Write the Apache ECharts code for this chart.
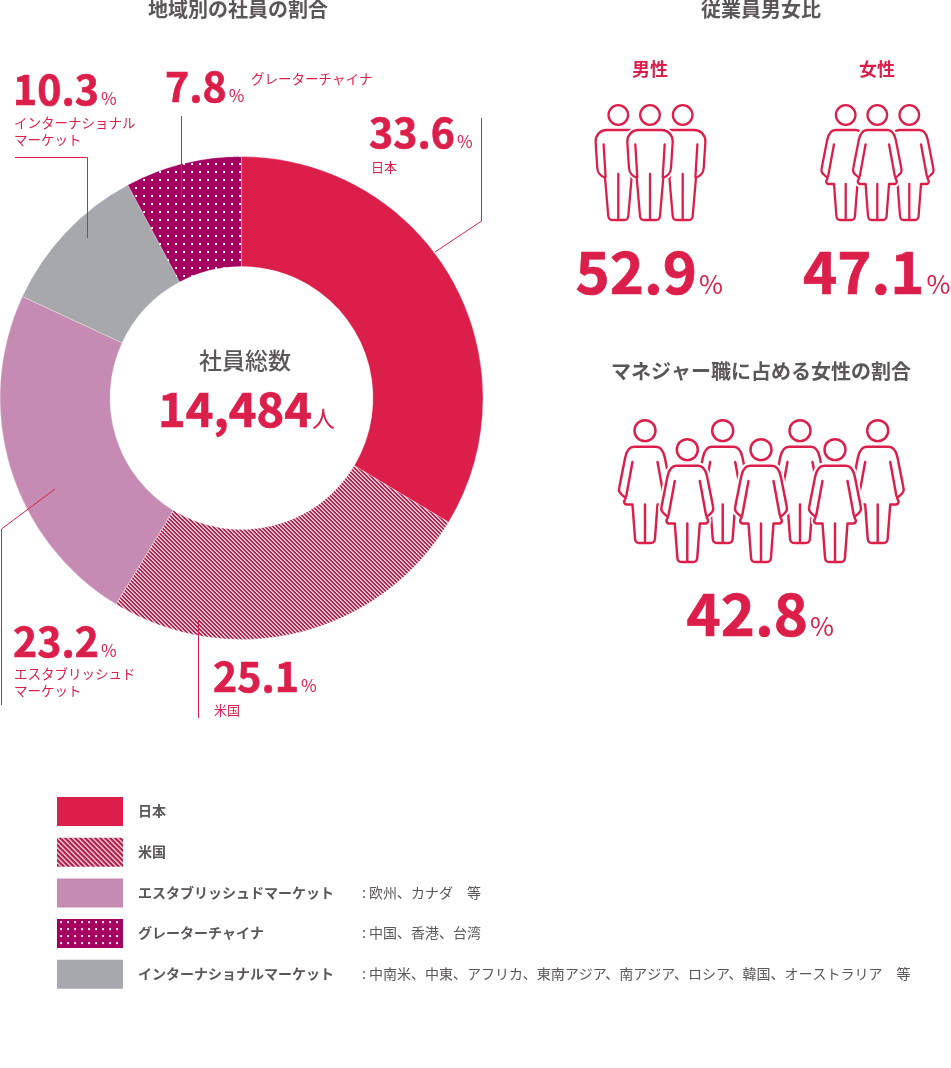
<!DOCTYPE html>
<html>
<head>
<meta charset="utf-8">
<style>html,body{margin:0;padding:0;background:#fff}#main{width:951px;height:1068px}</style>
<script src="https://cdn.jsdelivr.net/npm/echarts@6/dist/echarts.min.js"></script>
</head>
<body>
<div id="main"></div>
<script>
var regions = ['日本', '米国', 'エスタブリッシュドマーケット', 'インターナショナルマーケット', 'グレーターチャイナ'];
var shares = [33.6, 25.1, 23.2, 10.3, 7.8];
var legendOrder = ['日本', '米国', 'エスタブリッシュドマーケット', 'グレーターチャイナ', 'インターナショナルマーケット'];
var legendNotes = ['', '', ': 欧州、カナダ　等', ': 中国、香港、台湾', ': 中南米、中東、アフリカ、東南アジア、南アジア、ロシア、韓国、オーストラリア　等'];
var totalStaff = '14,484';
var malePct = 52.9;
var femalePct = 47.1;
var managerPct = 42.8;

var RED = '#db1f4a', GREY = '#595757', FONT = '"Noto Sans CJK JP"';

function hatch(period){
    var c = document.createElement('canvas');
    c.width = c.height = period;
    var x = c.getContext('2d');
    x.fillStyle = '#b2234f';
    x.fillRect(0, 0, period, period);
    for(var i = 0; i < period; i++){
        x.fillStyle = '#f3dbe2';
        x.fillRect(i, i, 1, 1);
        x.fillStyle = '#e3a9ba';
        x.fillRect((i + 1) % period, i, 1, 1);
    }
    return {image: c, repeat: 'repeat'};
}
function dots(period, px, py){
    var c = document.createElement('canvas');
    c.width = c.height = period;
    var x = c.getContext('2d');
    x.fillStyle = '#a5005f';
    x.fillRect(0, 0, period, period);
    x.fillStyle = '#f7d9ea';
    x.fillRect(px, py, 1, 2);
    x.fillStyle = '#ffffff';
    x.fillRect((px + 1) % period, py, 1, 2);
    return {image: c, repeat: 'repeat'};
}

var sliceColors = [RED, hatch(4), '#c68bb3', '#a7a8ab', dots(8, 7, 3)];
var legendColors = [RED, hatch(5), '#c68bb3', dots(7, 3, 2), '#a7a8ab'];

function txt(text, x, y, size, weight, color, align){
    return {type: 'text', x: x, y: y, z: 10, silent: true, style: {
        text: text, fill: color, align: align || 'left', verticalAlign: 'middle',
        font: weight + ' ' + size + 'px ' + FONT
    }};
}
// 数字 + 小さい単位
function pct(value, x, y, size, unitSize, unit, gap){
    return {type: 'text', x: x, y: y, z: 10, silent: true, style: {
        text: '{n|' + value + '}{u|' + (unit || '%') + '}',
        fill: RED, verticalAlign: 'middle',
        rich: {
            n: {font: 'bold ' + size + 'px ' + FONT, fill: RED, stroke: RED, lineWidth: 0.7},
            u: {font: 'normal ' + unitSize + 'px ' + FONT, fill: RED, verticalAlign: 'bottom', padding: [0, 0, size * 0.07, gap == null ? 2 : gap]}
        }
    }};
}
function leader(points){
    return {type: 'polyline', z: 9, silent: true, shape: {points: points},
        style: {stroke: RED, lineWidth: 1, fill: null}};
}

var HEAD = 'M9.8 -15A9.8 9.8 0 1 1 -9.8 -15A9.8 9.8 0 1 1 9.8 -15Z';
var MAN = HEAD + 'M-11.7 0L11.7 0C18 0 22.7 5 22.7 11.7L21 38C20.8 43 17 46.5 13.3 47.7L10 86Q9.7 90 6 90L-6 90Q-9.7 90 -10 86L-13.3 47.7C-17 46.5 -20.8 43 -21 38L-22.7 11.7C-22.7 5 -18 0 -11.7 0Z'
    + 'M14.7 14.3L12.7 47M-14.7 14.3L-12.7 47M0 44L0 90';
var WOMAN = HEAD + 'M-10 0L10 0C15 0 17.5 5 18.5 10L24 38C24.7 41 24 43 22 44.5L18 48L19.5 51Q19.5 54 17 54L11.7 54L9.3 86Q9 90 5.5 90L-5.5 90Q-9 90 -9.3 86L-11.7 54L-17 54Q-19.5 54 -19.5 51L-18 48L-22 44.5C-24 43 -24.7 41 -24 38L-18.5 10C-17.5 5 -15 0 -10 0Z'
    + 'M11.7 14.3L17.5 46M-11.7 14.3L-17.5 46M0 54L0 90';
echarts.graphic.registerShape('man', echarts.graphic.extendPath(MAN));
echarts.graphic.registerShape('woman', echarts.graphic.extendPath(WOMAN));

function person(kind, x, y, s){
    return [
        {type: kind, x: x, y: y, scaleX: s, scaleY: s, z: 5, silent: true,
            style: {fill: '#fff', stroke: '#fff', lineWidth: 6, lineJoin: 'round'}},
        {type: kind, x: x, y: y, scaleX: s, scaleY: s, z: 5, silent: true,
            style: {fill: '#fff', stroke: RED, lineWidth: 2.3, lineCap: 'round', lineJoin: 'round'}}
    ];
}

var graphics = [
    txt('地域別の社員の割合', 238, 9, 20, 'bold', GREY, 'center'),
    txt('従業員男女比', 761, 9, 20, 'bold', GREY, 'center'),
    txt('男性', 650, 69, 18, 'bold', RED, 'center'),
    txt('女性', 877, 69, 18, 'bold', RED, 'center'),
    txt('マネジャー職に占める女性の割合', 761, 371, 20, 'bold', GREY, 'center'),
    txt('社員総数', 245, 360, 23, '500', GREY, 'center'),
    pct(totalStaff, 158, 409.5, 47, 23, '人', 0),

    pct(shares[0].toFixed(1), 369, 132, 41, 17),
    txt(regions[0], 371, 167, 13, 'normal', RED),
    pct(shares[4].toFixed(1), 165, 86, 41, 17),
    txt(regions[4], 251, 79, 13.5, 'normal', RED),
    pct(shares[3].toFixed(1), 13, 89, 41, 17),
    txt('インターナショナル', 14, 123, 13.5, 'normal', RED),
    txt('マーケット', 14, 140, 13.5, 'normal', RED),
    pct(shares[2].toFixed(1), 13, 641, 41, 17),
    txt('エスタブリッシュド', 14, 674, 13.5, 'normal', RED),
    txt('マーケット', 14, 691, 13.5, 'normal', RED),
    pct(shares[1].toFixed(1), 213, 676, 41, 17),
    txt(regions[1], 214, 710, 13, 'normal', RED),

    pct(malePct.toFixed(1), 575.5, 272, 58, 26),
    pct(femalePct.toFixed(1), 803, 272, 58, 26),
    pct(managerPct.toFixed(1), 686.5, 614, 58, 26),

    leader([[481.5, 118], [481.5, 221], [435, 252]]),
    leader([[181.5, 116], [181.5, 199]]),
    leader([[15, 157.5], [87.5, 157.5], [87.5, 238]]),
    leader([[1.5, 705], [1.5, 529], [55, 489]]),
    leader([[198.5, 718], [198.5, 620]])
];
// 男性・女性アイコン（手前を後に描く）
graphics = graphics.concat(
    person('man', 618.3, 130, 1), person('man', 682.7, 130, 1), person('man', 650, 130, 1),
    person('woman', 845.7, 130, 1), person('woman', 909.3, 130, 1), person('woman', 877.3, 130, 1),
    person('woman', 645, 446.7, 1.07), person('woman', 722.7, 446.7, 1.07),
    person('woman', 800, 446.7, 1.07), person('woman', 877.7, 446.7, 1.07),
    person('woman', 687.3, 465.7, 1.07), person('woman', 761, 465.7, 1.07), person('woman', 835, 465.7, 1.07)
);

var chart = echarts.init(document.getElementById('main'), null, {width: 951, height: 1068});
chart.setOption({
    animation: false,
    legend: {
        orient: 'vertical', left: 57, top: 797, padding: 0,
        itemWidth: 66, itemHeight: 29, itemGap: 11.7,
        selectedMode: false,
        data: legendOrder.map(function(name, i){
            return {name: name, icon: 'rect', itemStyle: {color: legendColors[i], borderWidth: 0}};
        }),
        formatter: function(name){
            var note = legendNotes[legendOrder.indexOf(name)];
            return '{a|' + name + '}' + (note ? '{b|' + note + '}' : '');
        },
        textStyle: {
            rich: {
                a: {fontFamily: FONT, fontSize: 14, fontWeight: 'bold', color: GREY, width: 224, padding: [0, 0, 1, 10]},
                b: {fontFamily: FONT, fontSize: 14, color: GREY, padding: [0, 0, 1, 0]}
            }
        }
    },
    series: [{
        type: 'pie',
        center: [241.5, 398],
        radius: [131.5, 241.5],
        startAngle: 90,
        silent: true,
        label: {show: false},
        labelLine: {show: false},
        itemStyle: {borderColor: '#fff', borderWidth: 0.3},
        data: regions.map(function(name, i){
            return {name: name, value: shares[i], itemStyle: {color: sliceColors[i]}};
        })
    }],
    graphic: graphics
});
</script>
</body>
</html>
